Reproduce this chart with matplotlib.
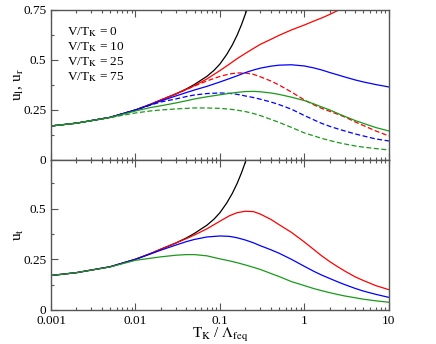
import matplotlib
matplotlib.use('Agg')
import matplotlib.pyplot as plt
from matplotlib.ticker import FixedLocator, LogLocator, NullFormatter, MultipleLocator

plt.rcParams['font.family'] = ['Liberation Serif', 'DejaVu Serif']
plt.rcParams['mathtext.fontset'] = 'stix'

# T_K / Lambda_feq
x = [0.001, 0.002, 0.005, 0.01, 0.015, 0.02, 0.03, 0.04, 0.05, 0.07, 0.1,
     0.13, 0.16, 0.2, 0.25, 0.3, 0.4, 0.5, 0.7, 1, 1.3, 1.6, 2, 2.5, 3, 4,
     5, 7, 10]

# V/T_K = 0 (same in both panels, leaves the frame near 0.2)
x_black = [0.001, 0.002, 0.005, 0.01, 0.015, 0.02, 0.03, 0.04, 0.05, 0.07,
           0.085, 0.1, 0.12, 0.14, 0.16, 0.18, 0.2, 0.22]
u_black = [0.17, 0.184, 0.213, 0.25, 0.278, 0.30, 0.33, 0.355, 0.378, 0.418,
           0.448, 0.48, 0.527, 0.575, 0.625, 0.677, 0.73, 0.78]

# top panel: solid = u_l, dashed = u_r
ul_red = [0.17, 0.184, 0.213, 0.25, 0.278, 0.30, 0.33, 0.353, 0.372, 0.405, 0.447,
          0.48, 0.507, 0.533, 0.558, 0.578, 0.603, 0.623, 0.65, 0.675, 0.695, 0.71,
          0.728, 0.748, 0.764, 0.79, 0.81, 0.84, 0.87]
ur_red = [0.17, 0.184, 0.213, 0.25, 0.278, 0.30, 0.33, 0.352, 0.37, 0.395, 0.418,
          0.43, 0.435, 0.435, 0.428, 0.416, 0.395, 0.375, 0.34, 0.30, 0.275, 0.258,
          0.243, 0.228, 0.215, 0.19, 0.172, 0.145, 0.12]
ul_blue = [0.17, 0.184, 0.213, 0.25, 0.276, 0.295, 0.32, 0.337, 0.35, 0.368, 0.39,
           0.407, 0.421, 0.437, 0.45, 0.459, 0.469, 0.474, 0.476, 0.47, 0.46, 0.45,
           0.437, 0.425, 0.415, 0.40, 0.39, 0.377, 0.365]
ur_blue = [0.17, 0.184, 0.213, 0.25, 0.274, 0.29, 0.305, 0.317, 0.325, 0.332, 0.335,
           0.333, 0.328, 0.32, 0.312, 0.304, 0.29, 0.277, 0.254, 0.222, 0.20, 0.183,
           0.168, 0.155, 0.145, 0.13, 0.12, 0.105, 0.095]
ul_green = [0.17, 0.184, 0.212, 0.245, 0.262, 0.271, 0.285, 0.296, 0.305, 0.316, 0.326,
            0.333, 0.338, 0.342, 0.343, 0.341, 0.335, 0.328, 0.314, 0.297, 0.28, 0.265,
            0.25, 0.232, 0.218, 0.197, 0.183, 0.162, 0.145]
ur_green = [0.17, 0.184, 0.212, 0.235, 0.245, 0.25, 0.255, 0.258, 0.26, 0.26, 0.258,
            0.254, 0.249, 0.242, 0.232, 0.222, 0.203, 0.188, 0.163, 0.135, 0.12, 0.108,
            0.097, 0.087, 0.08, 0.07, 0.064, 0.057, 0.05]

# bottom panel: u_t
ut_red = [0.17, 0.184, 0.213, 0.25, 0.278, 0.30, 0.33, 0.352, 0.37, 0.40, 0.438,
          0.465, 0.48, 0.487, 0.485, 0.473, 0.447, 0.421, 0.383, 0.335, 0.297, 0.267,
          0.238, 0.212, 0.192, 0.163, 0.145, 0.12, 0.10]
ut_blue = [0.17, 0.184, 0.213, 0.25, 0.276, 0.295, 0.32, 0.337, 0.348, 0.36, 0.365,
           0.363, 0.356, 0.345, 0.331, 0.317, 0.297, 0.28, 0.25, 0.215, 0.19, 0.172,
           0.155, 0.138, 0.125, 0.106, 0.093, 0.077, 0.062]
ut_green = [0.17, 0.184, 0.212, 0.245, 0.255, 0.262, 0.27, 0.273, 0.273, 0.267, 0.252,
            0.242, 0.233, 0.222, 0.21, 0.20, 0.18, 0.165, 0.14, 0.12, 0.105, 0.095,
            0.085, 0.076, 0.069, 0.06, 0.053, 0.045, 0.038]

legend_labels = ['V/T$_\\mathrm{K}$ = 0', 'V/T$_\\mathrm{K}$ = 10',
                 'V/T$_\\mathrm{K}$ = 25', 'V/T$_\\mathrm{K}$ = 75']

red, blue, green = '#ff0000', '#0000ff', '#1a9a1a'
dash = (0, (4, 2))
lw = 0.9

fig = plt.figure(figsize=(4.36, 3.44), dpi=100)
ax1 = fig.add_axes([0.117, 0.535, 0.775, 0.436])
ax2 = fig.add_axes([0.117, 0.099, 0.775, 0.436])

ax1.plot(x_black, u_black, color='black', lw=lw)
ax1.plot(x, ul_red, color=red, lw=lw)
ax1.plot(x, ur_red, color=red, lw=lw, ls=dash)
ax1.plot(x, ul_blue, color=blue, lw=lw)
ax1.plot(x, ur_blue, color=blue, lw=lw, ls=dash)
ax1.plot(x, ul_green, color=green, lw=lw)
ax1.plot(x, ur_green, color=green, lw=lw, ls=dash)

ax2.plot(x_black, u_black, color='black', lw=lw)
ax2.plot(x, ut_red, color=red, lw=lw)
ax2.plot(x, ut_blue, color=blue, lw=lw)
ax2.plot(x, ut_green, color=green, lw=lw)

for i, lab in enumerate(legend_labels):
    ax1.text(0.047, 0.85 - i * 0.1, lab, transform=ax1.transAxes, fontsize=9.5,
             va='center', ha='left')

for ax in (ax1, ax2):
    ax.set_xscale('log')
    ax.set_xlim(0.001, 10)
    ax.xaxis.set_major_locator(FixedLocator([0.001, 0.01, 0.1, 1, 10]))
    ax.xaxis.set_minor_locator(LogLocator(base=10, subs=range(2, 10)))
    ax.xaxis.set_minor_formatter(NullFormatter())
    ax.yaxis.set_major_locator(MultipleLocator(0.25))
    ax.yaxis.set_minor_locator(MultipleLocator(0.125))
    ax.tick_params(which='both', direction='in', top=True, right=False,
                   labelsize=9.5, colors='#555555', labelcolor='black')
    ax.tick_params(which='major', length=5, width=0.8)
    ax.tick_params(which='minor', length=2.5, width=0.8)
    for s in ax.spines.values():
        s.set_color('#555555')
        s.set_linewidth(1.0)

ax1.set_ylim(0, 0.75)
ax1.set_yticks([0, 0.25, 0.5, 0.75])
ax1.set_yticklabels(['0', '0.25', '0.5', '0.75'])
ax1.tick_params(labelbottom=False)
ax1.set_ylabel('u$_\\mathrm{l}$, u$_\\mathrm{r}$', fontsize=11)
ax1.yaxis.set_label_coords(-0.075, 0.5)

ax2.set_ylim(0, 0.74)
ax2.set_yticks([0, 0.25, 0.5])
ax2.set_yticklabels(['0', '0.25', '0.5'])
ax2.set_xticklabels(['0.001', '0.01', '0.1', '1', '10'])
ax2.set_ylabel('u$_\\mathrm{t}$', fontsize=11)
ax2.yaxis.set_label_coords(-0.075, 0.5)
ax2.set_xlabel('T$_\\mathrm{K}$ / $\\Lambda_\\mathrm{feq}$', fontsize=11)
ax2.xaxis.set_label_coords(0.5, -0.11)

fig.savefig('out.png', dpi=100)
